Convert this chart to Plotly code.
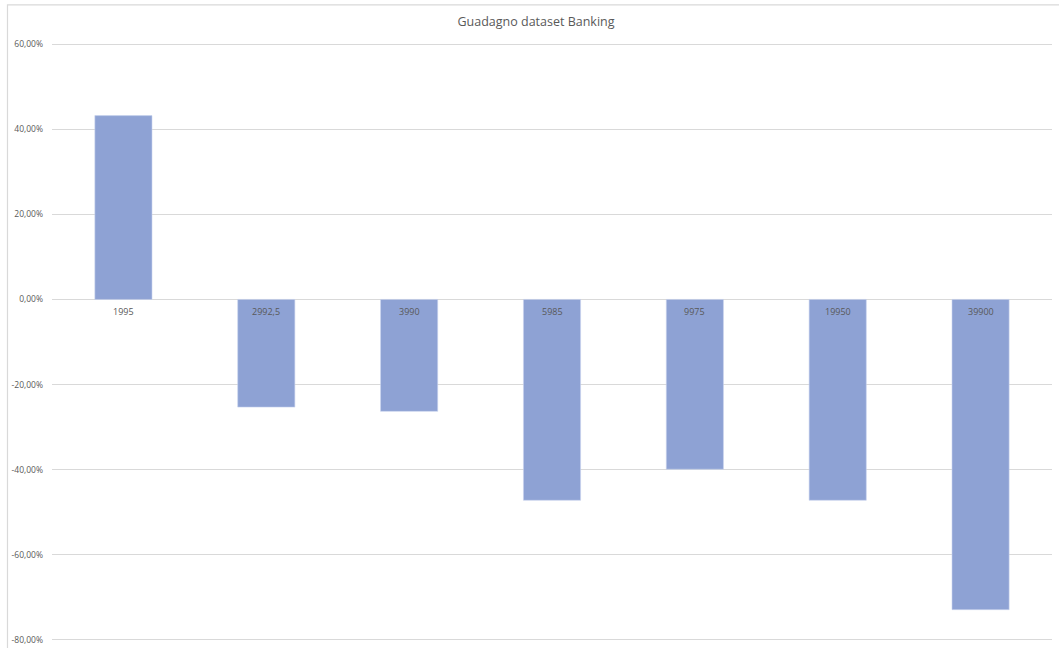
import plotly.graph_objects as go

# Gain per threshold on the Banking dataset
categories = ["1995", "2992,5", "3990", "5985", "9975", "19950", "39900"]
gain_pct = [0.432, -0.253, -0.263, -0.472, -0.399, -0.472, -0.729]

tick_values = [0.6, 0.4, 0.2, 0.0, -0.2, -0.4, -0.6, -0.8]
tick_labels = ["60,00%", "40,00%", "20,00%", "0,00%", "-20,00%", "-40,00%", "-60,00%", "-80,00%"]

text_color = "#595959"
grid_color = "#d9d9d9"
bar_color = "#8ea2d4"
font_family = "Open Sans, Liberation Sans, sans-serif"

fig = go.Figure()
fig.add_trace(go.Bar(
    x=categories,
    y=gain_pct,
    width=0.4,
    marker=dict(color=bar_color, line=dict(color="#c9d3ee", width=0.6)),
    hoverinfo="x+y",
))

# Category labels sit just under the zero line, on top of the bars
# (positioned by category index so numeric-looking names stay categorical)
for i, cat in enumerate(categories):
    fig.add_annotation(
        x=i, y=0, xref="x", yref="y",
        text=cat, showarrow=False,
        yanchor="top", yshift=-4,
        font=dict(size=9, color=text_color, family=font_family),
    )

# Chart area frame
fig.add_shape(type="rect", xref="paper", yref="paper",
              x0=-0.0445, x1=1.02, y0=-0.03, y1=1.062,
              line=dict(color=grid_color, width=1.2), layer="below")

fig.update_layout(
    width=1059, height=648,
    margin=dict(l=52, r=7, t=42, b=3),
    paper_bgcolor="white", plot_bgcolor="white",
    showlegend=False,
    separators=",.",
    title=dict(
        text="Guadagno dataset Banking",
        x=536 / 1059, xref="container", xanchor="center",
        y=1 - 22 / 648, yref="container", yanchor="middle",
        font=dict(size=12.5, color=text_color, family=font_family),
    ),
    font=dict(family=font_family, color=text_color),
    xaxis=dict(
        type="category",
        categoryorder="array",
        categoryarray=categories,
        range=[-0.5, len(categories) - 0.5],
        showticklabels=False, showgrid=False,
        zeroline=False, showline=False, ticks="",
    ),
    yaxis=dict(
        range=[-0.805, 0.605], tickvals=tick_values, ticktext=tick_labels,
        showgrid=True, gridcolor=grid_color, gridwidth=1,
        zeroline=False, showline=False, ticks="",
        ticklabelstandoff=8,
        tickfont=dict(size=8.5, color=text_color, family=font_family),
    ),
)

fig.write_html("out.html")
